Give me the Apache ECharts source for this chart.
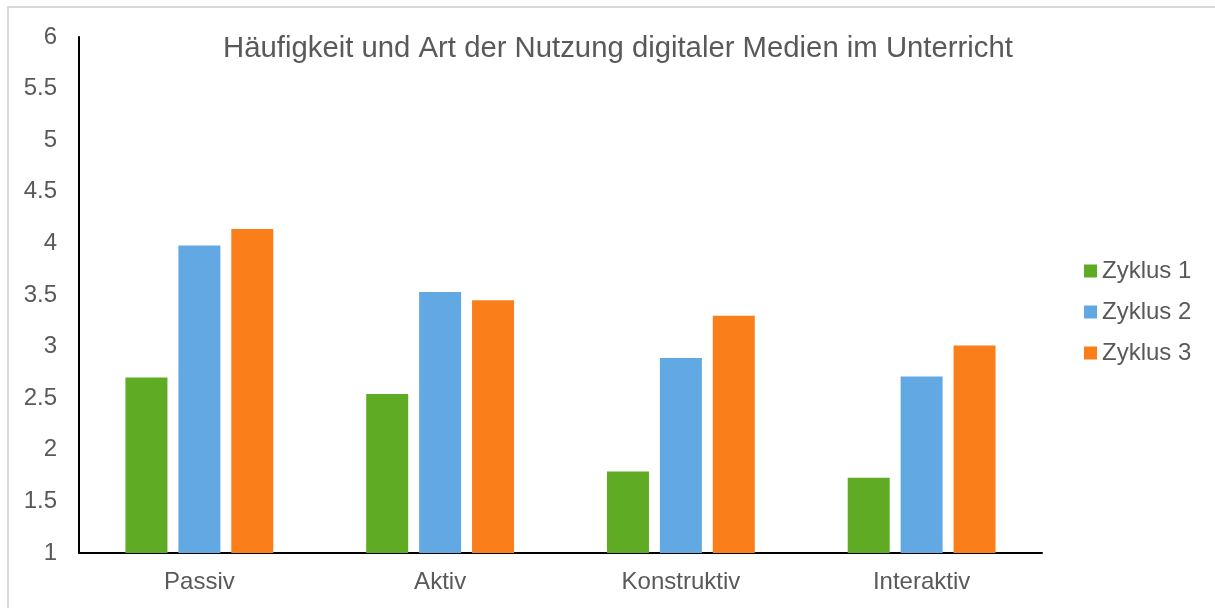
<!DOCTYPE html>
<html><head><meta charset="utf-8">
<script src="https://cdn.jsdelivr.net/npm/echarts@6/dist/echarts.min.js"></script>
<style>html,body{margin:0;padding:0;background:#fff}#c{width:1215px;height:608px}</style>
</head><body><div id="c"></div>
<script>
const categories = ['Passiv', 'Aktiv', 'Konstruktiv', 'Interaktiv'];
const seriesNames = ['Zyklus 1', 'Zyklus 2', 'Zyklus 3'];
const zyklus1 = [2.70, 2.54, 1.79, 1.73];
const zyklus2 = [3.98, 3.53, 2.89, 2.71];
const zyklus3 = [4.14, 3.45, 3.30, 3.01];
const colors = ['#60AB24', '#62A8E3', '#FA7F1B'];
const values = [zyklus1, zyklus2, zyklus3];
const font = 'Liberation Sans, Arial, sans-serif';
const chart = echarts.init(document.getElementById('c'));
chart.setOption({
  animation: false,
  textStyle: {fontFamily: font},
  graphic: [{type: 'rect', shape: {x: 8, y: 7, width: 1220, height: 620}, style: {fill: 'none', stroke: '#D9D9D9', lineWidth: 2}, z: -1}],
  title: {text: 'Häufigkeit und Art der Nutzung digitaler Medien im Unterricht', left: 613, top: 29, textAlign: 'center',
    textStyle: {fontFamily: font, fontSize: 29.3, fontWeight: 'normal', color: '#595959'}},
  legend: {orient: 'vertical', left: 1079, top: 254, itemGap: 17, itemWidth: 13, itemHeight: 13, icon: 'rect',
    textStyle: {fontFamily: font, fontSize: 24, color: '#595959', padding: [0,0,0,0]}, data: seriesNames},
  grid: {left: 79, top: 37, right: 173, bottom: 55, containLabel: false},
  xAxis: {type: 'category', data: categories,
    axisLine: {lineStyle: {color: '#000', width: 2}}, axisTick: {show: false},
    axisLabel: {fontFamily: font, fontSize: 24, color: '#595959', margin: 17}},
  yAxis: {type: 'value', min: 1, max: 6, interval: 0.5,
    axisLine: {show: true, lineStyle: {color: '#000', width: 2}}, axisTick: {show: false},
    splitLine: {show: false},
    axisLabel: {fontFamily: font, fontSize: 24, color: '#595959', margin: 22}},
  series: seriesNames.map((n, i) => ({
    name: n, type: 'bar', data: values[i], barWidth: 42, barGap: '26%',
    itemStyle: {color: colors[i]}
  }))
});
</script></body></html>
